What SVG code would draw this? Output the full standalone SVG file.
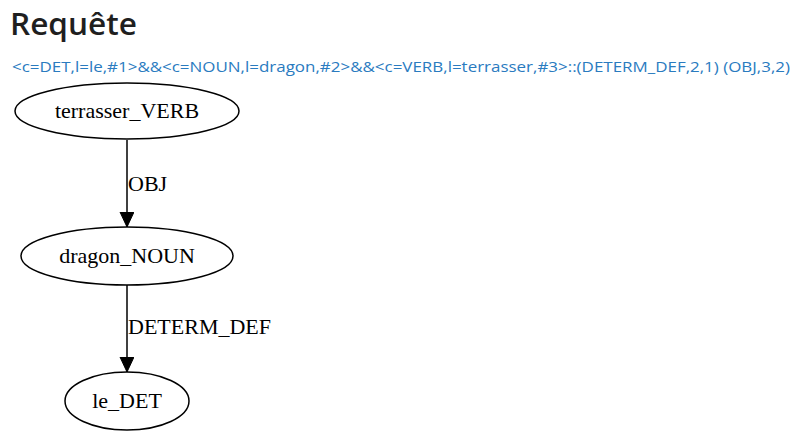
<svg xmlns="http://www.w3.org/2000/svg" width="800" height="442" viewBox="0 0 800 442">
<style>
.title{font-family:"Open Sans","Noto Sans",sans-serif;font-weight:600;font-size:31px;fill:#1f1f1f}
.query{font-family:"Open Sans","Noto Sans",sans-serif;font-size:14.5px;fill:#2a7bbf}
.node ellipse{fill:#fff;stroke:#000;stroke-width:1.5}
.node text,.lbl{font-family:"Liberation Serif","Times New Roman",serif;font-size:22px;fill:#000}
.node text{text-anchor:middle}
.edge{stroke:#000;stroke-width:1.5;fill:none}
</style>
<defs>
<marker id="arr" markerUnits="userSpaceOnUse" markerWidth="16" markerHeight="16" refX="15" refY="7" orient="auto">
<path d="M0,0 L15,7 L0,14 Z" fill="#000" stroke="#000" stroke-width="1"/>
</marker>
</defs>
<rect width="800" height="442" fill="#fff"/>
<text class="title" x="10" y="35" textLength="127" lengthAdjust="spacingAndGlyphs">Requête</text>
<text class="query" x="12" y="72" textLength="778" lengthAdjust="spacingAndGlyphs">&lt;c=DET,l=le,#1&gt;&amp;&amp;&lt;c=NOUN,l=dragon,#2&gt;&amp;&amp;&lt;c=VERB,l=terrasser,#3&gt;::(DETERM_DEF,2,1) (OBJ,3,2)</text>
<g id="connectors">
<line class="edge" x1="127" y1="140" x2="127" y2="227" marker-end="url(#arr)"/>
<text class="lbl" x="128" y="191">OBJ</text>
<line class="edge" x1="127" y1="285" x2="127" y2="372" marker-end="url(#arr)"/>
<text class="lbl" x="128" y="334">DETERM_DEF</text>
</g>
<g id="node-terrasser" class="node">
<ellipse cx="127" cy="111" rx="112" ry="28"/>
<text x="127" y="118">terrasser_VERB</text>
</g>
<g id="node-dragon" class="node">
<ellipse cx="127" cy="256" rx="106" ry="29"/>
<text x="127" y="263">dragon_NOUN</text>
</g>
<g id="node-le" class="node">
<ellipse cx="127" cy="401" rx="62" ry="29"/>
<text x="127" y="408">le_DET</text>
</g>
</svg>
